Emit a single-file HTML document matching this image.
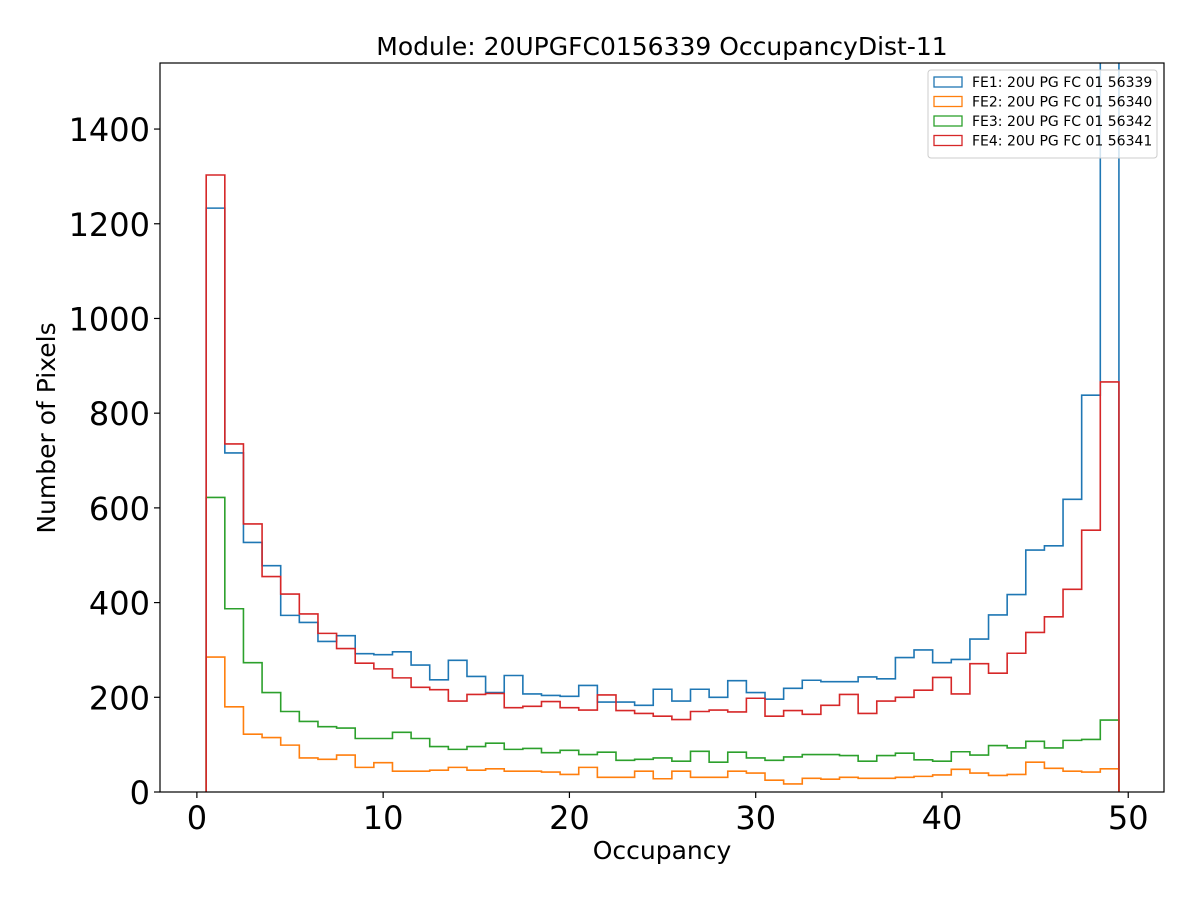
<!DOCTYPE html>
<html><head><meta charset="utf-8"><style>
body{margin:0;background:#fff;font-family:"Liberation Sans","DejaVu Sans",sans-serif}
</style></head><body>
<svg id="chart" width="1200" height="900" xmlns="http://www.w3.org/2000/svg" font-family="DejaVu Sans, Liberation Sans, sans-serif">
<defs><clipPath id="clip"><rect x="160" y="63" width="1004" height="729"/></clipPath></defs>
<rect width="1200" height="900" fill="#fff"/>
<g id="marks" clip-path="url(#clip)"></g>
<g id="axes"></g>
<text x="662" y="55" font-size="25" text-anchor="middle">Module: 20UPGFC0156339 OccupancyDist-11</text>
<text x="662" y="859" font-size="25" text-anchor="middle">Occupancy</text>
<text transform="translate(55,428) rotate(-90)" font-size="25" text-anchor="middle">Number of Pixels</text>
<g id="legend"></g>
</svg>
<script>
const binEdgesStart = 0.5;
const binCount = 49;
const xTicks = [0,10,20,30,40,50];
const yTicks = [0,200,400,600,800,1000,1200,1400];
const seriesNames = ["FE1: 20U PG FC 01 56339","FE2: 20U PG FC 01 56340","FE3: 20U PG FC 01 56342","FE4: 20U PG FC 01 56341"];
const seriesColors = ["#1f77b4","#ff7f0e","#2ca02c","#d62728"];
const fe1 = [1233,716,527,478,373,358,318,330,292,290,296,268,237,278,244,210,246,207,204,202,225,190,190,183,217,192,217,200,235,210,196,219,236,233,233,243,239,284,300,273,280,323,374,417,511,520,618,838,1700];
const fe2 = [285,180,122,115,99,72,69,78,52,62,44,44,46,52,46,49,44,44,42,37,52,31,31,44,28,44,31,31,44,40,25,17,29,27,31,29,29,31,33,36,48,40,35,37,63,50,44,42,49];
const fe3 = [622,387,273,210,170,149,138,135,113,113,126,113,96,90,96,103,90,92,83,88,79,84,67,69,72,65,86,63,84,72,67,74,79,79,77,65,77,82,68,65,85,78,98,93,107,93,109,111,152];
const fe4 = [1303,735,566,455,418,376,335,303,272,260,241,221,216,192,206,208,178,181,191,178,173,205,172,166,160,153,170,173,169,198,160,172,164,183,206,166,192,200,215,242,207,271,251,293,337,370,428,553,866];
const allSeries = [fe1,fe2,fe3,fe4];
const drawOrder = [0,1,2,3];

const X0=160,X1=1164,Y0=63,Y1=792;
const xMin=-1.98, xMax=51.92, yMin=0, yMax=1539.5;
function xs(v){return X0+(v-xMin)/(xMax-xMin)*(X1-X0);}
function ys(v){return Y1-(v-yMin)/(yMax-yMin)*(Y1-Y0);}
const NS="http://www.w3.org/2000/svg";
function mk(tag,attrs,parent){const e=document.createElementNS(NS,tag);for(const k in attrs)e.setAttribute(k,attrs[k]);parent.appendChild(e);return e;}
const marks=document.getElementById('marks'), axes=document.getElementById('axes'), legend=document.getElementById('legend');

drawOrder.forEach(si=>{
  const vals=allSeries[si];
  let d="M"+xs(binEdgesStart)+","+ys(0);
  vals.forEach((v,i)=>{
    const a=binEdgesStart+i, b=a+1;
    d+=" L"+xs(a)+","+ys(v)+" L"+xs(b)+","+ys(v);
  });
  d+=" L"+xs(binEdgesStart+binCount)+","+ys(0);
  const p=mk('path',{d:d,fill:'none',stroke:seriesColors[si],'stroke-width':1.6},marks);
  
  
});

const frame=mk('rect',{x:X0,y:Y0,width:X1-X0,height:Y1-Y0,fill:'none',stroke:'#000','stroke-width':1.2},axes);


xTicks.forEach(t=>{
  const x=xs(t);
  const l=mk('line',{x1:x,x2:x,y1:Y1,y2:Y1+6,stroke:'#000','stroke-width':1.2},axes);
  
  
  const tx=mk('text',{x:x,y:Y1+37,'font-size':32,'text-anchor':'middle'},axes);
  
  
  tx.textContent=t;
});
yTicks.forEach(t=>{
  const y=ys(t);
  const l=mk('line',{x1:X0-6,x2:X0,y1:y,y2:y,stroke:'#000','stroke-width':1.2},axes);
  
  
  const tx=mk('text',{x:X0-10,y:y+12,'font-size':32,'text-anchor':'end'},axes);
  
  
  tx.textContent=t;
});

const lb=mk('rect',{x:928,y:70,width:229,height:88,rx:3,fill:'#fff','fill-opacity':0.8,stroke:'#ccc'},legend);


seriesNames.forEach((n,i)=>{
  const y=82+i*19.5;
  const r=mk('rect',{x:934,y:y-5,width:28,height:10,fill:'none',stroke:seriesColors[i],'stroke-width':1.3},legend);
  
  
  const t=mk('text',{x:972,y:y+5,'font-size':14},legend);
  
  
  t.textContent=n;
});
</script>
</body></html>
